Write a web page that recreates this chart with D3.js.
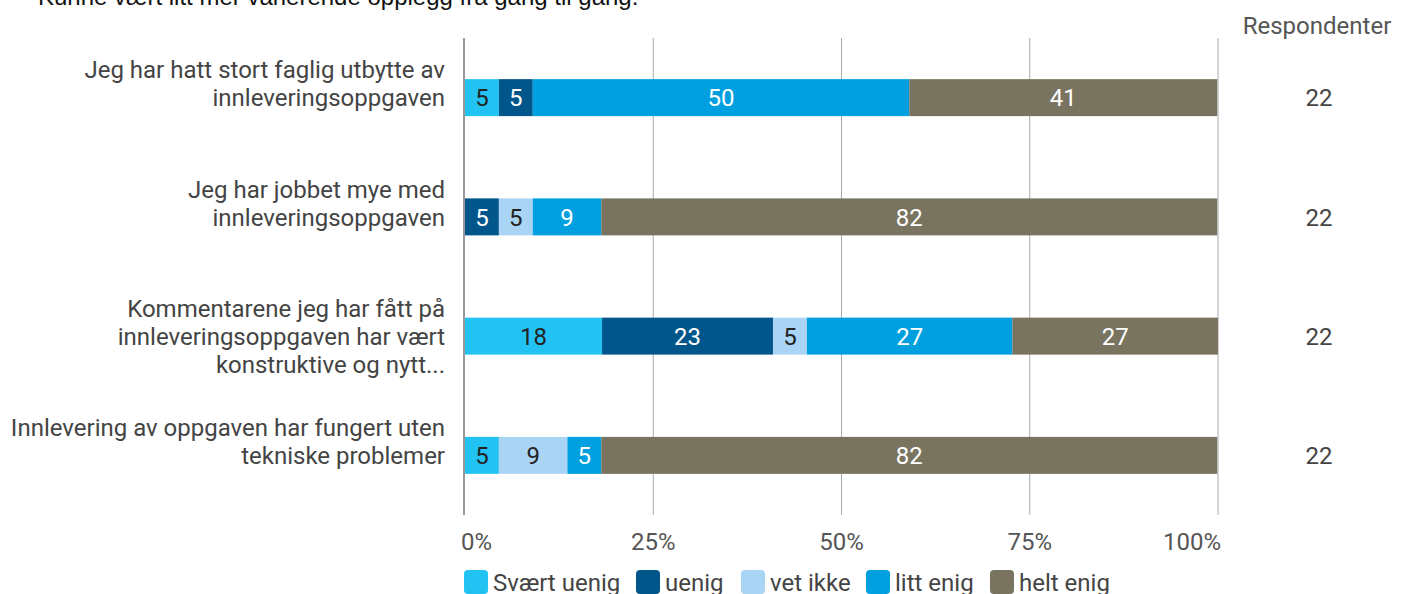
<!DOCTYPE html>
<html>
<head>
<meta charset="utf-8">
<script src="https://cdn.jsdelivr.net/npm/d3@7"></script>
<style>
  body { margin: 0; background: #fff; }
  svg { display: block; font-family: Roboto, "Noto Sans", sans-serif; }
</style>
</head>
<body>
<div id="chart"></div>
<script>
// Spørsmål (kategorier)
const questions = [
    ["Jeg har hatt stort faglig utbytte av", "innleveringsoppgaven"],
    ["Jeg har jobbet mye med", "innleveringsoppgaven"],
    ["Kommentarene jeg har fått på", "innleveringsoppgaven har vært", "konstruktive og nytt..."],
    ["Innlevering av oppgaven har fungert uten", "tekniske problemer"]
];
const seriesNames = ["Svært uenig", "uenig", "vet ikke", "litt enig", "helt enig"];
const seriesColors = ["#22c3f3", "#00568a", "#a9d4f4", "#00a0e0", "#78745f"];
const labelColors = ["#222", "#fff", "#222", "#fff", "#fff"];

// Prosent per serie, rad for rad
const sværtUenig = [4.5, 0, 18.2, 4.5];
const uenig      = [4.5, 4.5, 22.7, 0];
const vetIkke    = [0, 4.5, 4.5, 9.1];
const littEnig   = [50, 9.1, 27.3, 4.5];
const heltEnig   = [40.9, 81.8, 27.3, 81.8];
const respondenter = [22, 22, 22, 22];

const xTicks = [0, 25, 50, 75, 100];
const topNote = "Kunne vært litt mer varierende opplegg fra gang til gang.";

const W = 1409, H = 594;
const FS = 24;
const svg = d3.select("#chart").append("svg").attr("width", W).attr("height", H);

// Tekst som er kuttet øverst
svg.append("text")
    .attr("x", 38).attr("y", 5)
    .attr("font-family", "'Liberation Sans', Arial, sans-serif")
    .attr("font-size", FS).attr("fill", "#111")
    .text(topNote);

const x = d3.scaleLinear().domain([0, 100]).range([465, 1218]);
const y = d3.scaleBand().domain(d3.range(questions.length)).range([38, 515]).paddingInner(0.69).paddingOuter(0.345);

const rows = questions.map((q, i) => [sværtUenig[i], uenig[i], vetIkke[i], littEnig[i], heltEnig[i]]);

// Rutenett
svg.append("g").selectAll("line").data(xTicks.slice(1)).join("line")
    .attr("x1", d => x(d)).attr("x2", d => x(d))
    .attr("y1", 38).attr("y2", 515)
    .attr("stroke", "#aaa").attr("stroke-width", 1);

// Stolper
rows.forEach((vals, i) => {
    const g = svg.append("g");
    let acc = 0;
    vals.forEach((v, s) => {
        const x0 = acc;
        acc += v;
        if (v <= 0) return;
        g.append("rect")
            .attr("x", x(x0)).attr("y", y(i))
            .attr("width", x(acc) - x(x0)).attr("height", y.bandwidth())
            .attr("fill", seriesColors[s]);
        g.append("text")
            .attr("x", (x(x0) + x(acc)) / 2).attr("y", y(i) + y.bandwidth() / 2)
            .attr("dy", "0.36em").attr("text-anchor", "middle")
            .attr("font-size", FS).attr("fill", labelColors[s])
            .text(Math.round(v));
    });
});

// Y-akse linje
svg.append("line")
    .attr("x1", x(0) - 1).attr("x2", x(0) - 1)
    .attr("y1", 38).attr("y2", 515)
    .attr("stroke", "#999").attr("stroke-width", 2);

// Kategorietiketter (andre linje står midt på stolpen)
questions.forEach((lines, i) => {
    const cy = y(i) + y.bandwidth() / 2;
    const t = svg.append("text")
        .attr("text-anchor", "end").attr("font-size", FS).attr("fill", "#444");
    lines.forEach((l, k) => {
        t.append("tspan")
            .attr("x", 445)
            .attr("y", cy + (k - 1) * 28)
            .attr("dy", "0.36em")
            .text(l);
    });
});

// X-akse etiketter
svg.append("g").selectAll("text").data(xTicks).join("text")
    .attr("x", d => d === 0 ? x(d) - 4 : d === 100 ? x(d) + 3 : x(d))
    .attr("y", 541).attr("dy", "0.36em")
    .attr("text-anchor", d => d === 0 ? "start" : d === 100 ? "end" : "middle")
    .attr("font-size", FS).attr("fill", "#555")
    .text(d => d + "%");

// Respondenter
svg.append("text")
    .attr("x", 1317).attr("y", 25).attr("dy", "0.36em")
    .attr("text-anchor", "middle").attr("font-size", FS).attr("fill", "#555")
    .text("Respondenter");
svg.append("g").selectAll("text").data(respondenter).join("text")
    .attr("x", 1319).attr("y", (d, i) => y(i) + y.bandwidth() / 2).attr("dy", "0.36em")
    .attr("text-anchor", "middle").attr("font-size", FS).attr("fill", "#444")
    .text(d => d);

// Forklaring
const legendX = [464, 636, 741, 866, 990];
const leg = svg.append("g").selectAll("g").data(seriesNames).join("g")
    .attr("transform", (d, i) => `translate(${legendX[i]},570)`);
leg.append("rect")
    .attr("width", 24).attr("height", 24).attr("rx", 4)
    .attr("fill", (d, i) => seriesColors[i]);
leg.append("text")
    .attr("x", 29).attr("y", 12).attr("dy", "0.36em")
    .attr("font-size", FS).attr("fill", "#444")
    .text(d => d);
</script>
</body>
</html>
